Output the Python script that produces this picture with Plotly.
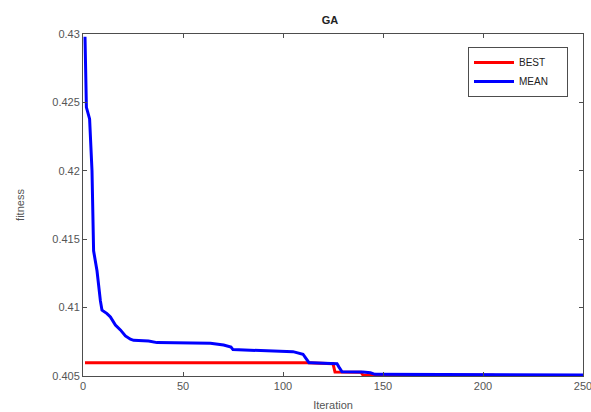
import plotly.graph_objects as go

# BEST series (iteration, fitness)
best_iter = [1, 112, 125, 126, 139, 140, 205, 206, 250]
best_vals = [0.40597, 0.40597, 0.4059, 0.40529, 0.40527, 0.40507, 0.40506, 0.40504, 0.40504]

# MEAN series (iteration, fitness)
mean_iter = [1, 1.7, 3.3, 4.5, 5.3, 7, 8.7, 9.5, 12, 13.7, 16.2, 18.7, 21.2, 23.7, 25.3,
             32.8, 37, 63.7, 70.3, 74, 75, 92, 98.7, 105, 110, 113, 114, 120, 127, 128,
             129.5, 140, 143.7, 146, 205, 230, 250]
mean_vals = [0.4298, 0.42464, 0.42379, 0.4200, 0.41415, 0.41269, 0.41049, 0.40981, 0.40956,
             0.40932, 0.40873, 0.40837, 0.40793, 0.40769, 0.40761, 0.40756, 0.40744, 0.4074,
             0.40727, 0.40712, 0.40693, 0.40687, 0.40683, 0.40678, 0.40659, 0.40597, 0.40597,
             0.40595, 0.4059, 0.40565, 0.40531, 0.40529, 0.40524, 0.40512, 0.40512, 0.40508,
             0.40507]

x_ticks = [0, 50, 100, 150, 200, 250]
y_ticks = [0.405, 0.41, 0.415, 0.42, 0.425, 0.43]
y_tick_text = ["0.405", "0.41", "0.415", "0.42", "0.425", "0.43"]
series_names = ["BEST", "MEAN"]

font = "Liberation Sans, Arial, Helvetica, sans-serif"
axcol = "#4d4d4d"
pad = "&nbsp;" * 5

fig = go.Figure()
fig.add_trace(go.Scatter(x=best_iter, y=best_vals, mode="lines", name=series_names[0] + pad,
                         line=dict(color="#ff0000", width=3)))
fig.add_trace(go.Scatter(x=mean_iter, y=mean_vals, mode="lines", name=series_names[1] + pad,
                         line=dict(color="#0000ff", width=3)))

axis_common = dict(showline=True, linecolor=axcol, linewidth=1, mirror="ticks",
                   ticks="inside", ticklen=4, tickcolor=axcol, showgrid=False,
                   zeroline=False, automargin=False, ticklabeloverflow="allow",
                   tickfont=dict(family=font, size=11, color="#555555"))

fig.update_layout(
    width=591, height=412,
    margin=dict(l=83, r=8, t=34, b=36),
    paper_bgcolor="white", plot_bgcolor="white",
    title=dict(text="<b>GA</b>", x=0.494, xref="paper", xanchor="center", y=0.95,
               yanchor="middle", font=dict(family=font, size=11, color="#222222")),
    xaxis=dict(range=[0, 250], tickvals=x_ticks,
               title=dict(text="Iteration", standoff=10,
                          font=dict(family=font, size=11, color="#555555")),
               **axis_common),
    yaxis=dict(range=[0.405, 0.43], tickvals=y_ticks, ticktext=y_tick_text,
               title=dict(text="fitness", standoff=25,
                          font=dict(family=font, size=11, color="#555555")),
               **axis_common),
    legend=dict(x=0.97, y=0.962, xanchor="right", yanchor="top",
                bordercolor=axcol, borderwidth=1, bgcolor="white",
                font=dict(family=font, size=10, color="#222222"),
                tracegroupgap=0, itemwidth=40),
    showlegend=True,
)

fig.write_html("out.html", config={"displayModeBar": False},
               post_script="document.body.style.margin='0';")
